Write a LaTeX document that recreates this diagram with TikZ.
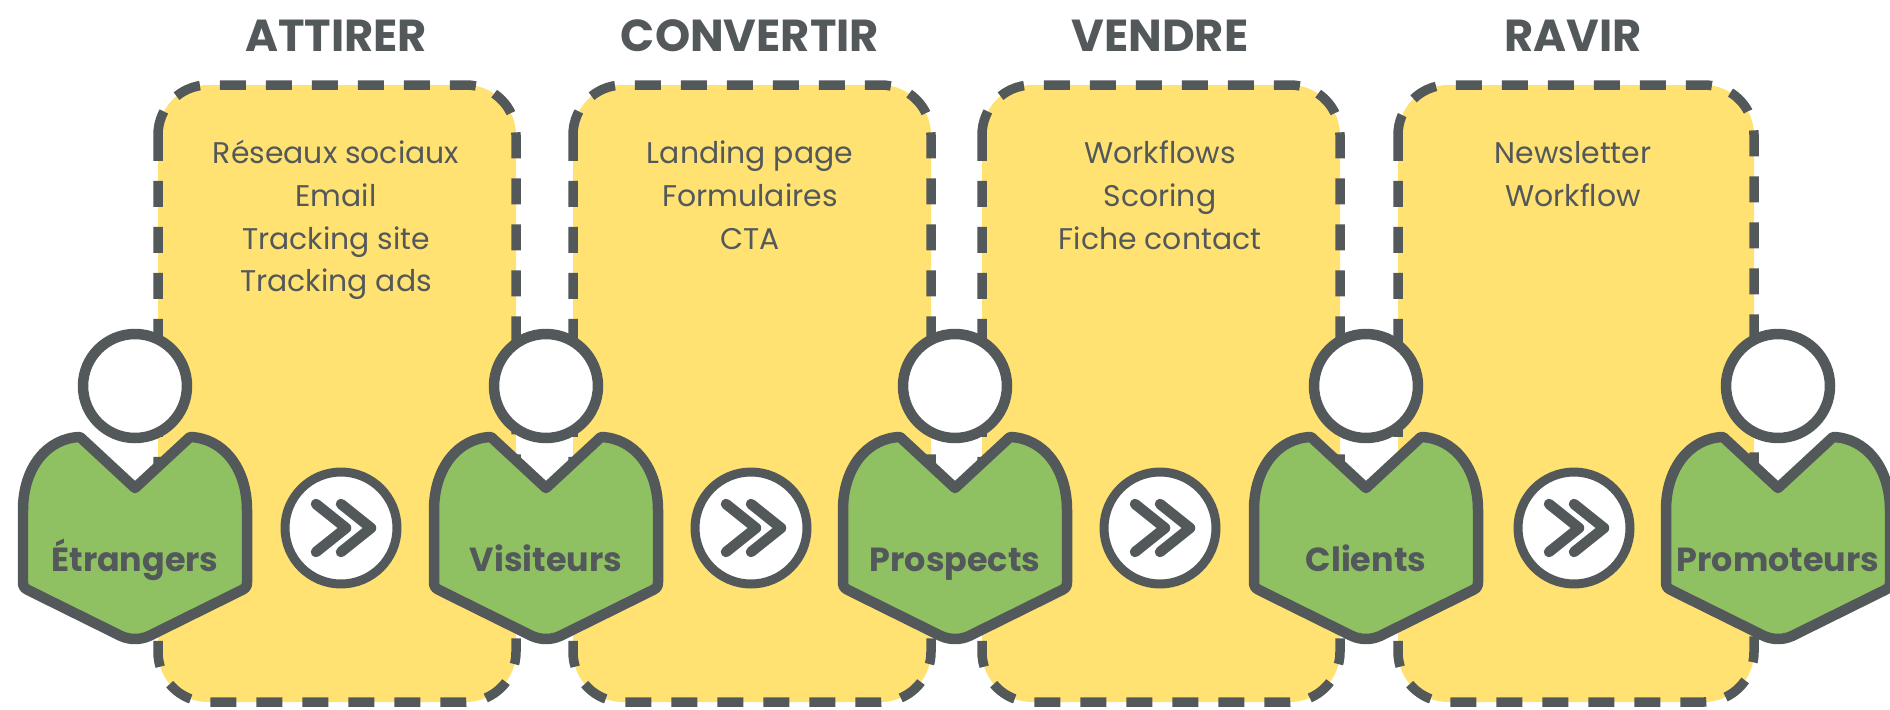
\documentclass[tikz,border=0pt]{standalone}
\usepackage{fontspec}
\setmainfont{Poppins}
\definecolor{ardoise}{HTML}{53585B}
\definecolor{jaune}{HTML}{FFE271}
\definecolor{vert}{HTML}{8FC162}
\tikzset{
    etape/.style={fill=jaune,draw=ardoise,line width=0.19cm,rounded corners=1cm,dash pattern=on 0.52cm off 0.4cm},
    titre/.style={text=ardoise,font=\fontsize{25.5}{30}\selectfont\bfseries},
    liste/.style={text=ardoise,anchor=north,align=center,font=\fontsize{17}{24.2}\selectfont},
    corps/.style={fill=vert,draw=ardoise,line width=0.21cm,line join=round},
    tete/.style={circle,fill=white,draw=ardoise,line width=0.21cm,minimum size=2.08cm,inner sep=0pt},
    nomperso/.style={text=ardoise,anchor=base,font=\fontsize{19}{24}\selectfont\bfseries},
    rond/.style={circle,fill=white,draw=ardoise,line width=0.18cm,minimum size=2.24cm,inner sep=0pt},
    chevron/.style={draw=ardoise,line width=0.21cm,line cap=round,line join=round},
}
\begin{document}
\begin{tikzpicture}[x=0.02cm,y=-0.02cm]
    \useasboundingbox (0,0) rectangle (1890,710);
    \foreach \g/\d/\c/\n/\t/\l in {
        158/516/336/attirer/ATTIRER/{\strut Réseaux sociaux\\Email\\Tracking site\\Tracking ads},
        573/931/750/convertir/CONVERTIR/{\strut Landing page\\Formulaires\\CTA},
        982/1340/1160/vendre/VENDRE/{\strut Workflows\\Scoring\\Fiche contact},
        1398/1754/1573/ravir/RAVIR/{\strut Newsletter\\Workflow}}{
        \draw[etape] (\g,85) rectangle (\d,702);
        \node[titre] (titre-\n) at (\c,36) {\t};
        \node[liste] (liste-\n) at (\c,128) {\l};
    }
    \foreach \x/\n in {135/Étrangers, 546/Visiteurs, 955/Prospects, 1366/Clients, 1778/Promoteurs}{
        \draw[corps] (\x-112,510) .. controls (\x-112,468) and (\x-88,438) .. (\x-55,437)
            -- (\x,488) -- (\x+55,437) .. controls (\x+88,438) and (\x+112,468) .. (\x+112,510)
            -- (\x+112,582) .. controls (\x+112,586) and (\x+111,588) .. (\x+107,590)
            -- (\x+14,636) .. controls (\x+5,640) and (\x-5,640) .. (\x-14,636)
            -- (\x-107,590) .. controls (\x-111,588) and (\x-112,586) .. (\x-112,582) -- cycle;
        \node[tete] (tete-\n) at (\x,386) {};
        \node[nomperso] (nom-\n) at (\x,571) {\n};
    }
    \foreach \x in {341, 751, 1160, 1574}{
        \node[rond] (rond-\x) at (\x,528) {};
        \draw[chevron] (\x-25,504) -- (\x+5,528) -- (\x-25,552);
        \draw[chevron] (\x,504) -- (\x+30,528) -- (\x,552);
    }
\end{tikzpicture}
\end{document}
